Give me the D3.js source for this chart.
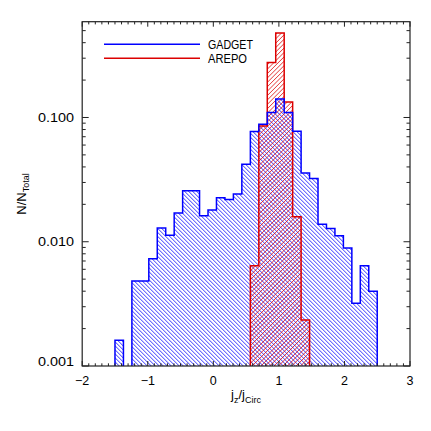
<!DOCTYPE html>
<html><head><meta charset="utf-8">
<script src="https://cdn.jsdelivr.net/npm/d3@7/dist/d3.min.js"></script>
<style>body{margin:0;background:#fff}svg{display:block}text{font-family:"Liberation Sans",Arial,sans-serif;fill:#000}</style>
</head><body><div id="chart"></div>
<script>
// ---- data ----
const binEdges = [-1.5,-1.371,-1.242,-1.113,-0.984,-0.855,-0.726,-0.597,-0.468,-0.339,-0.210,-0.081,0.048,0.177,0.306,0.435,0.565,0.694,0.823,0.952,1.081,1.210,1.339,1.468,1.597,1.726,1.855,1.984,2.113,2.242,2.371,2.5];
const gadget = [0.00161,0,0.00483,0.00483,0.0073,0.0129,0.0113,0.0170,0.0257,0.0257,0.0162,0.0180,0.0226,0.0219,0.0242,0.0421,0.0771,0.0884,0.1097,0.1411,0.1097,0.0774,0.0358,0.0323,0.0138,0.0128,0.0112,0.0089,0.0032,0.0064,0.0040];
const arepo  = [0,0,0,0,0,0,0,0,0,0,0,0,0,0,0,0,0.0064,0.0855,0.277,0.479,0.1335,0.0159,0.00234,0,0,0,0,0,0,0,0];
const seriesNames = ["GADGET","AREPO"];
const xTicks = [-2,-1,0,1,2,3];
const yTicks = [0.001,0.01,0.1];
const yTickLabels = ["0.001","0.010","0.100"];

// ---- layout ----
const W=431,H=431,L=82.2,R=410,T=21.7,B=366;
const BLUE="#0000ff", RED="#dc0000", FRAME="#222";
const x = d3.scaleLinear().domain([-2,3]).range([L,R]);
const y = d3.scaleLog().domain([0.001,0.59]).range([B,T]);

const svg = d3.select("#chart").append("svg").attr("width",W).attr("height",H);
svg.append("rect").attr("width",W).attr("height",H).attr("fill","#fff");
const defs = svg.append("defs");

function bins(vals){ return vals.map((v,i)=>({x0:binEdges[i],x1:binEdges[i+1],v})).filter(d=>d.v>0); }
function outline(vals){
  let p="", run=false;
  for(let i=0;i<vals.length;i++){
    const v=vals[i];
    if(v>0){
      if(!run){ p+=`M${x(binEdges[i])},${B}`; run=true; }
      p+=`V${y(v)}H${x(binEdges[i+1])}`;
      if(i===vals.length-1||!(vals[i+1]>0)){ p+=`V${B}`; run=false; }
    }
  }
  return p;
}
function hatch(id, vals, color, step, dir, w){
  const cp = defs.append("clipPath").attr("id",id);
  cp.selectAll("rect").data(bins(vals)).join("rect")
    .attr("x",d=>x(d.x0)).attr("width",d=>x(d.x1)-x(d.x0))
    .attr("y",d=>y(d.v)).attr("height",d=>B-y(d.v));
  const g = svg.append("g").attr("clip-path",`url(#${id})`);
  const lines=[];
  if(dir>0){ for(let c=T-R-5;c<=B-L+5;c+=step) lines.push([L,L+c,R,R+c]); }
  else { for(let c=T+L-5;c<=B+R+5;c+=step) lines.push([L,c-L,R,c-R]); }
  g.selectAll("line").data(lines).join("line")
    .attr("x1",d=>d[0]).attr("y1",d=>d[1]).attr("x2",d=>d[2]).attr("y2",d=>d[3])
    .attr("stroke",color).attr("stroke-width",w);
}
hatch("cb", gadget, BLUE, 4.0, 1, 0.8);
hatch("cr", arepo, RED, 4.4, -1, 0.8);
svg.append("path").attr("d",outline(arepo)).attr("fill","none").attr("stroke",RED).attr("stroke-width",1.5);
svg.append("path").attr("d",outline(gadget)).attr("fill","none").attr("stroke",BLUE).attr("stroke-width",1.5);

// ---- axes ----
const xMinor = d3.range(-20,31).map(k=>k/10).filter(v=>!xTicks.includes(v));
const yMinor = [];
[0.001,0.01,0.1].forEach(d=>{for(let m=2;m<=9;m++){const v=d*m; if(v<=0.59) yMinor.push(v);}});
const ax = svg.append("g").attr("stroke",FRAME).attr("stroke-width",1);
function tk(x1,y1,x2,y2){ ax.append("line").attr("x1",x1).attr("y1",y1).attr("x2",x2).attr("y2",y2); }
xTicks.forEach(v=>{tk(x(v),B,x(v),B-5);tk(x(v),T,x(v),T+5);});
xMinor.forEach(v=>{tk(x(v),B,x(v),B-2.7);tk(x(v),T,x(v),T+2.7);});
yTicks.forEach(v=>{tk(L,y(v),L+6.5,y(v));tk(R,y(v),R-6.5,y(v));});
yMinor.forEach(v=>{tk(L,y(v),L+3.5,y(v));tk(R,y(v),R-3.5,y(v));});
svg.append("rect").attr("x",L).attr("y",T).attr("width",R-L).attr("height",B-T)
  .attr("fill","none").attr("stroke",FRAME).attr("stroke-width",1.2);

const fmt = d3.format("d");
svg.append("g").selectAll("text").data(xTicks).join("text")
  .attr("x",d=>x(d)).attr("y",385).attr("text-anchor","middle").attr("font-size",12.5)
  .text(d=>d<0?"\u2212"+Math.abs(d):fmt(d));
svg.append("g").selectAll("text").data(yTicks).join("text")
  .attr("x",74).attr("y",d=>Math.min(y(d)+4.6,B-0.3)).attr("text-anchor","end").attr("font-size",12)
  .attr("textLength",36).attr("lengthAdjust","spacingAndGlyphs")
  .text((d,i)=>yTickLabels[i]);

// axis titles
const xt = svg.append("text").attr("x",246).attr("y",399).attr("text-anchor","middle").attr("font-size",13);
xt.append("tspan").text("j");
xt.append("tspan").attr("font-size",9).attr("dy",4).text("z");
xt.append("tspan").attr("dy",-4).text("/");
xt.append("tspan").text("j");
xt.append("tspan").attr("font-size",9).attr("dy",4).text("Circ");
const yt = svg.append("text").attr("transform","translate(25.5,194) rotate(-90)").attr("text-anchor","middle").attr("font-size",13);
yt.append("tspan").text("N/N");
yt.append("tspan").attr("font-size",9).attr("dy",3.5).text("Total");

// legend
const leg = svg.append("g");
[BLUE,RED].forEach((c,i)=>{
  leg.append("line").attr("x1",104).attr("x2",200).attr("y1",44.3+14*i).attr("y2",44.3+14*i).attr("stroke",c).attr("stroke-width",1.5);
  leg.append("text").attr("x",208).attr("y",48.5+14*i).attr("font-size",12.5)
    .attr("textLength",i===0?45:39).attr("lengthAdjust","spacingAndGlyphs").text(seriesNames[i]);
});
</script></body></html>
